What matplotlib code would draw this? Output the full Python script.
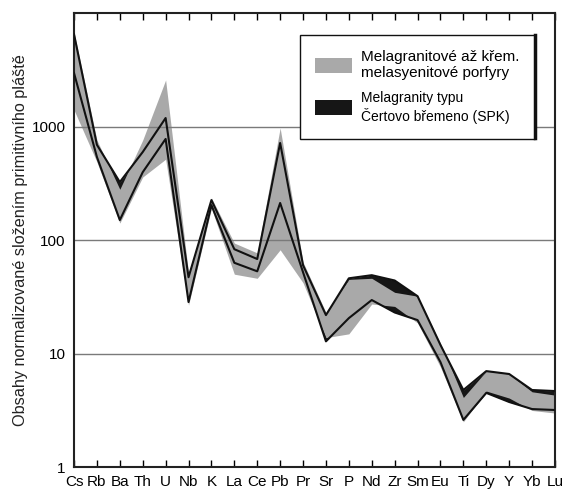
import matplotlib
matplotlib.use("Agg")
import matplotlib.pyplot as plt
from matplotlib.patches import Patch
from matplotlib.lines import Line2D
import numpy as np

plt.rcParams['font.family'] = ['Liberation Sans', 'DejaVu Sans']

elements = ["Cs", "Rb", "Ba", "Th", "U", "Nb", "K", "La", "Ce", "Pb", "Pr",
            "Sr", "P", "Nd", "Zr", "Sm", "Eu", "Ti", "Dy", "Y", "Yb", "Lu"]

# Melagranitové až křem. melasyenitové porfyry (gray envelope)
porf_upper = [6800, 760, 280, 760, 2570, 51, 235, 94, 77, 970, 64,
              23, 45, 46, 34.6, 32, 12.3, 4.1, 7.0, 6.6, 4.6, 4.3]
porf_lower = [1400, 487, 141, 359, 515, 26.7, 190, 50, 46, 82, 42,
              13.8, 14.9, 27.3, 26, 18.6, 7.6, 2.5, 4.67, 4.05, 3.15, 2.99]

# Melagranity typu Čertovo břemeno (SPK) (black envelope)
spk_upper = [6500, 690, 324, 596, 1188, 47, 225, 83, 68, 716, 60,
             21.8, 46, 49, 44, 32, 11.9, 4.77, 7.0, 6.6, 4.77, 4.67]
spk_lower = [2960, 539, 150, 396, 777, 28.4, 203, 63, 53, 212, 52,
             12.8, 20.5, 29.6, 23, 19.7, 8.4, 2.6, 4.5, 3.74, 3.24, 3.18]

yticks = [1, 10, 100, 1000]
ytick_labels = ["1", "10", "100", "1000"]

legend_labels = ["Melagranitové až křem.\nmelasyenitové porfyry",
                 "Melagranity typu\nČertovo břemeno (SPK)"]
ylabel = "Obsahy normalizované složením primitivního pláště"

fig = plt.figure(figsize=(5.62, 4.93), dpi=100)
ax = fig.add_axes([0.1317, 0.0527, 0.8558, 0.9209])

x = np.arange(len(elements))
ax.fill_between(x, spk_lower, spk_upper, color="#161616", linewidth=0, zorder=1)
ax.fill_between(x, porf_lower, porf_upper, color="#a9a9a9", linewidth=0, zorder=1.5)
for yv in [10, 100, 1000]:
    ax.axhline(yv, color="#7a7a7a", linewidth=1.0, zorder=2)
ax.plot(x, spk_upper, color="#111111", linewidth=1.5, zorder=3)
ax.plot(x, spk_lower, color="#111111", linewidth=1.5, zorder=3)

ax.set_yscale("log")
ax.set_ylim(1, 10000)
ax.set_xlim(0, len(elements) - 1)
ax.set_yticks(yticks)
ax.set_yticklabels(ytick_labels, fontsize=11)
ax.yaxis.set_minor_locator(matplotlib.ticker.NullLocator())
ax.tick_params(axis="y", length=0, pad=6)
ax.set_xticks(x)
ax.set_xticklabels(elements, fontsize=11)
ax.tick_params(axis="x", direction="in", top=True, length=5, width=1, pad=6)
for s in ax.spines.values():
    s.set_linewidth(1.5)
    s.set_color("#222222")

ax.set_ylabel(ylabel, fontsize=11.7, labelpad=3, color="#222222")

handles = [Patch(facecolor="#a9a9a9", edgecolor="none"),
           Patch(facecolor="#161616", edgecolor="none")]
leg = ax.legend(handles, legend_labels, loc="upper right",
                bbox_to_anchor=(0.958, 0.952), borderaxespad=0,
                fancybox=False, framealpha=1, edgecolor="#111111",
                handlelength=2.4, handleheight=1.2, handletextpad=0.6,
                labelspacing=0.7, borderpad=1.0, fontsize=11)
leg.get_frame().set_linewidth(1.0)
leg.get_texts()[1].set_fontsize(10)
leg.set_zorder(5)

# thick right edge on the legend box, as in the reference
fig.canvas.draw()
bb = leg.get_frame().get_window_extent()
W, H = fig.bbox.width, fig.bbox.height
xr = (bb.x1 + 0.5) / W
fig.add_artist(Line2D([xr, xr], [(bb.y0 + 1) / H, bb.y1 / H],
                      transform=fig.transFigure, color="#111111",
                      linewidth=2.5, zorder=6))

fig.savefig("out.png", dpi=100)
